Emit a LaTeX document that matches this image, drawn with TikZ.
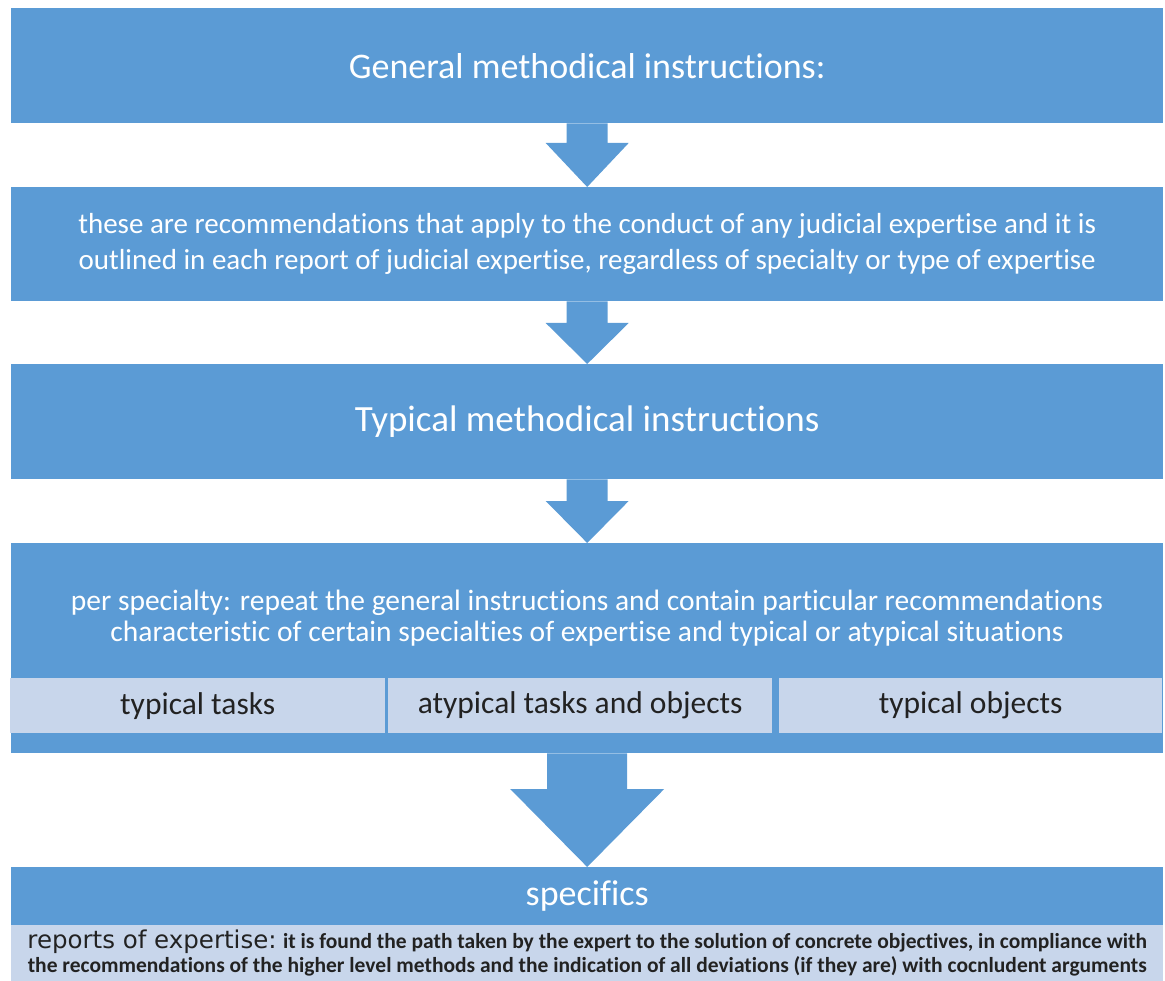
\documentclass[tikz,border=0pt]{standalone}
\usepackage{fontspec}
\setmainfont{Carlito}[Ligatures={TeX,NoCommon}]
\newfontfamily\verd{DejaVu Sans}
\usetikzlibrary{calc}
\definecolor{mainblue}{HTML}{5B9BD5}
\definecolor{lightblue}{HTML}{C8D6EB}
\definecolor{darktext}{HTML}{222222}
\tikzset{
  x=1pt, y=1pt,
  bluebox/.style={fill=mainblue, draw=none, minimum width=1152pt, anchor=north west, inner sep=0pt, text=white, align=center},
  lightbox/.style={fill=lightblue, draw=none, anchor=north west, inner sep=0pt, text=darktext, align=center},
  blockarrow/.style={fill=mainblue, draw=none},
}
\newcommand{\blockarr}[5]{% from, to, shaft half, head half, head length
  \fill[blockarrow] ($(#1.south)+(-#3,0)$) -- ($(#2.north)+(-#3,#5)$) -- ($(#2.north)+(-#4,#5)$)
    -- (#2.north) -- ($(#2.north)+(#4,#5)$) -- ($(#2.north)+(#3,#5)$) -- ($(#1.south)+(#3,0)$) -- cycle;}
\begin{document}
\begin{tikzpicture}
\useasboundingbox (0,0) rectangle (1165,-981);
% boxes
\node[bluebox, minimum height=115pt, font=\fontsize{36}{40}\selectfont] (b1) at (11,-8) {General methodical instructions:};
\node[bluebox, minimum height=114pt, font=\fontsize{29}{36}\selectfont] (b2) at (11,-187) {these are recommendations that apply to the conduct of any judicial expertise and it is\\outlined in each report of judicial expertise, regardless of specialty or type of expertise};
\node[bluebox, minimum height=115pt, font=\fontsize{37}{40}\selectfont] (b3) at (11,-364) {Typical methodical\ instructions};
\node[bluebox, minimum height=210pt] (b4) at (11,-543) {};
\node[text=white, align=center, font=\fontsize{29.5}{31}\selectfont] (t4) at (587,-618) {per specialty: repeat the general instructions and contain particular recommendations\\characteristic of certain specialties of expertise and typical or atypical situations};
\node[lightbox, minimum width=375pt, minimum height=55pt, font=\fontsize{31.5}{34}\selectfont] (s1) at (10,-678) {typical tasks};
\node[lightbox, minimum width=384pt, minimum height=55pt, font=\fontsize{31.5}{34}\selectfont] (s2) at (388,-678) {atypical tasks and objects};
\node[lightbox, minimum width=383pt, minimum height=55pt, font=\fontsize{31.5}{34}\selectfont] (s3) at (779,-678) {typical objects};
\node[bluebox, minimum height=58pt, font=\fontsize{36}{40}\selectfont] (b5) at (11,-867) {specifics};
\node[lightbox, minimum width=1152pt, minimum height=56pt, font=\fontsize{21.5}{24}\selectfont\bfseries] (b6) at (11,-925) {{\verd\mdseries\fontsize{24.5}{24}\selectfont reports of expertise:} it is found the path taken by the expert to the solution of concrete objectives, in compliance with\\the recommendations of the higher level methods and the indication of all deviations (if they are) with cocnludent arguments};
% arrows
\blockarr{b1}{b2}{20.5}{41.5}{44}
\blockarr{b2}{b3}{20.5}{41.5}{41}
\blockarr{b3}{b4}{20.5}{41.5}{42}
\blockarr{b4}{b5}{40}{77}{78}
\end{tikzpicture}
\end{document}
